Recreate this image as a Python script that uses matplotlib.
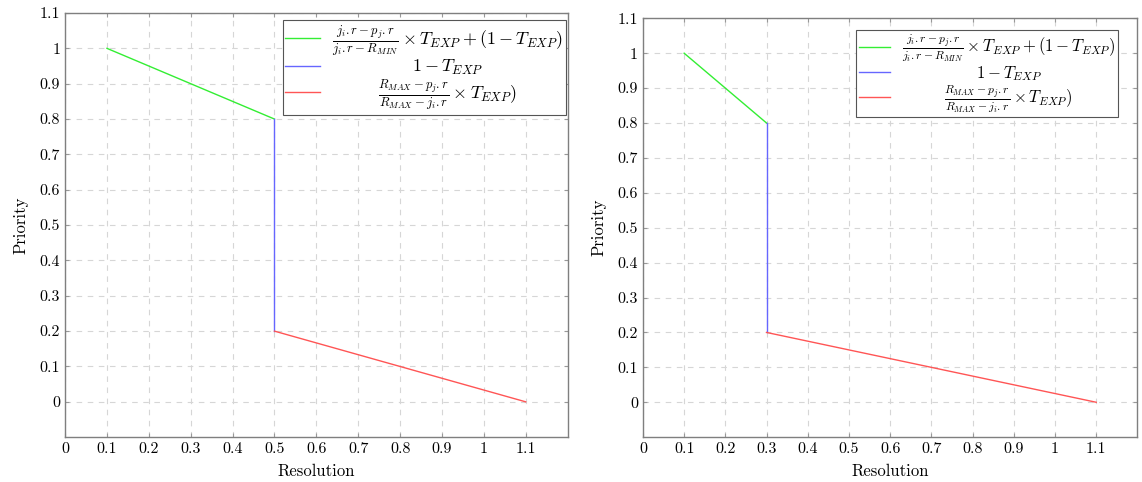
"""Priority as a function of resolution, two threshold settings side by side."""

import matplotlib.pyplot as plt
import numpy as np

plt.rcParams["font.family"] = ["cmr10", "DejaVu Serif"]
plt.rcParams["mathtext.fontset"] = "cm"
plt.rcParams["axes.formatter.use_mathtext"] = True

# left panel (threshold at 0.5)
left_green_x = [0.1, 0.5]
left_green_y = [1.0, 0.8]
left_blue_x = [0.5, 0.5]
left_blue_y = [0.8, 0.2]
left_red_x = [0.5, 1.1]
left_red_y = [0.2, 0.0]

# right panel (threshold at 0.3)
right_green_x = [0.1, 0.3]
right_green_y = [1.0, 0.8]
right_blue_x = [0.3, 0.3]
right_blue_y = [0.8, 0.2]
right_red_x = [0.3, 1.1]
right_red_y = [0.2, 0.0]

tick_values = [0, 0.1, 0.2, 0.3, 0.4, 0.5, 0.6, 0.7, 0.8, 0.9, 1, 1.1]
tick_labels = ["0", "0.1", "0.2", "0.3", "0.4", "0.5", "0.6", "0.7", "0.8", "0.9", "1", "1.1"]

labels = [
    r"$\frac{j_i.r-p_j.r}{j_i.r-R_{MIN}}\times T_{EXP}+(1-T_{EXP})$",
    r"$1-T_{EXP}$",
    r"$\frac{R_{MAX}-p_j.r}{R_{MAX}-j_i.r}\times T_{EXP})$",
]


def draw_panel(ax, gx, gy, bx, by, rx, ry, anchor, legend_size):
    ax.plot(gx, gy, color="#33ee33", lw=1.0, label=labels[0])
    ax.plot(bx, by, color="#6666ff", lw=1.0, label=labels[1])
    ax.plot(rx, ry, color="#ff5555", lw=1.0, label=labels[2])

    ax.set_xlim(0, 1.2)
    ax.set_ylim(-0.1, 1.1)
    ax.set_xticks(tick_values)
    ax.set_xticklabels(tick_labels)
    ax.set_yticks(tick_values)
    ax.set_yticklabels(tick_labels)
    ax.tick_params(direction="in", length=3, color="#999999", labelsize=11.5,
                   top=True, right=True)
    ax.grid(True, ls=(0, (5, 5)), color="#d6d6d6", lw=0.8)
    for s in ax.spines.values():
        s.set_color("#7f7f7f")
        s.set_linewidth(1.0)
    ax.set_xlabel("Resolution", fontsize=12, labelpad=6)
    ax.set_ylabel("Priority", fontsize=12, labelpad=8)

    leg = ax.legend(loc="upper right", bbox_to_anchor=anchor, borderaxespad=0,
                    fontsize=legend_size, fancybox=False, edgecolor="#555555",
                    framealpha=1.0, handlelength=1.9, borderpad=0.15,
                    labelspacing=0.0, handletextpad=0.7)
    leg.get_frame().set_linewidth(0.8)
    return leg


fig = plt.figure(figsize=(11.42, 4.82), dpi=100)
ax1 = fig.add_axes([0.057, 0.093, 0.44, 0.88])
ax2 = fig.add_axes([0.563, 0.093, 0.433, 0.869])

legends = [
    draw_panel(ax1, left_green_x, left_green_y, left_blue_x, left_blue_y,
               left_red_x, left_red_y, (0.996, 0.983), 13),
    draw_panel(ax2, right_green_x, right_green_y, right_blue_x, right_blue_y,
               right_red_x, right_red_y, (0.96, 0.971), 12),
]

# centre the legend entries like the original
fig.canvas.draw()
for leg in legends:
    texts = leg.get_texts()
    widths = [t.get_window_extent().width for t in texts]
    wmax = max(widths)
    for t, w in zip(texts, widths):
        t.set_x((wmax - w) / 2)

fig.savefig("out.png", dpi=100)
